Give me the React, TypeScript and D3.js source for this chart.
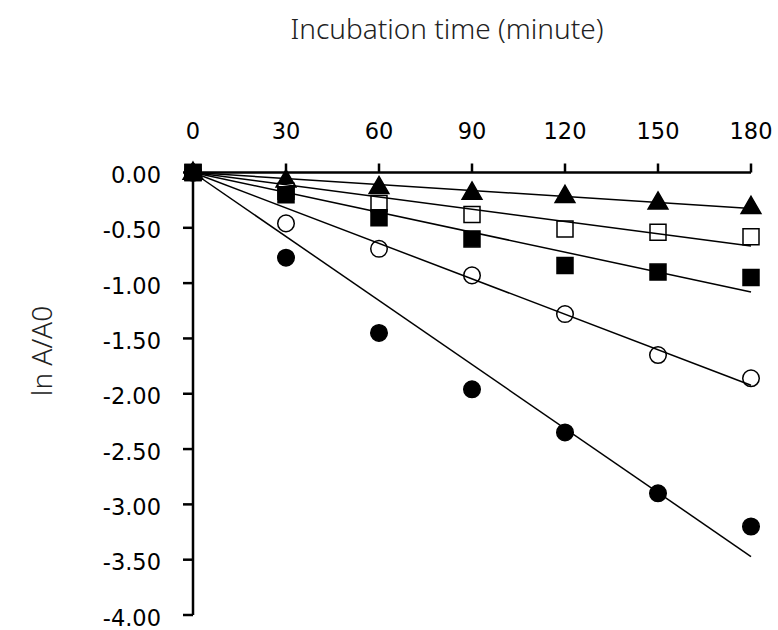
import React from "react";
import * as d3 from "d3";

const times = [0, 30, 60, 90, 120, 150, 180];
const xTicks = [0, 30, 60, 90, 120, 150, 180];
const yTicks = [0, -0.5, -1, -1.5, -2, -2.5, -3, -3.5, -4];

const triangleSeries = [0, -0.07, -0.13, -0.18, -0.21, -0.27, -0.31];
const openSquareSeries = [0, -0.17, -0.28, -0.38, -0.51, -0.54, -0.58];
const filledSquareSeries = [0, -0.2, -0.41, -0.6, -0.84, -0.9, -0.95];
const openCircleSeries = [0, -0.46, -0.69, -0.93, -1.28, -1.65, -1.86];
const filledCircleSeries = [0, -0.77, -1.45, -1.96, -2.35, -2.9, -3.2];

const series = [
  { name: "triangle", values: triangleSeries, symbol: d3.symbolTriangle, fill: "#000" },
  { name: "openSquare", values: openSquareSeries, symbol: d3.symbolSquare, fill: "#fff" },
  { name: "filledSquare", values: filledSquareSeries, symbol: d3.symbolSquare, fill: "#000" },
  { name: "openCircle", values: openCircleSeries, symbol: d3.symbolCircle, fill: "#fff" },
  { name: "filledCircle", values: filledCircleSeries, symbol: d3.symbolCircle, fill: "#000" },
];

const W = 778;
const H = 630;

export default function App() {
  const x = d3.scaleLinear().domain([0, 180]).range([193, 751]);
  const y = d3.scaleLinear().domain([-4, 0]).range([615, 172.5]);
  const titleFont = "'Noto Sans', 'Open Sans', sans-serif";
  const tickFont = "'DejaVu Sans', Verdana, sans-serif";

  const slope = (vals: number[]) => {
    const sxy = d3.sum(times, (t, i) => t * vals[i]);
    const sxx = d3.sum(times, (t) => t * t);
    return sxy / sxx;
  };

  const symSize = (sym: any) => {
    if (sym === d3.symbolTriangle) return 170;
    if (sym === d3.symbolSquare) return 256;
    return 215;
  };

  return (
    <svg width={W} height={H} style={{ position: "absolute", left: 0, top: 0, background: "#fff" }}>
      <text x={447} y={39} textAnchor="middle" fontFamily={titleFont} fontWeight={300} fontSize={28} fill="#222">
        Incubation time (minute)
      </text>
      <text
        transform={`translate(52,${351}) rotate(-90)`}
        textAnchor="middle"
        fontFamily={titleFont}
        fontWeight={300}
        fontSize={28}
        fill="#222"
      >
        ln A/A0
      </text>

      {/* axes */}
      <line x1={x(0)} x2={x(180)} y1={y(0)} y2={y(0)} stroke="#000" strokeWidth={2.5} />
      <line x1={x(0)} x2={x(0)} y1={y(0)} y2={y(-4)} stroke="#000" strokeWidth={2.5} />
      {xTicks.map((t) => (
        <g key={"xt" + t}>
          <line x1={x(t)} x2={x(t)} y1={y(0)} y2={y(0) - 9} stroke="#000" strokeWidth={2.5} />
          <text x={x(t)} y={138.5} textAnchor="middle" fontFamily={tickFont} fontSize={22.5} fill="#000">
            {t}
          </text>
        </g>
      ))}
      {yTicks.map((t) => (
        <g key={"yt" + t}>
          <line x1={x(0) - 10} x2={x(0)} y1={y(t)} y2={y(t)} stroke="#000" strokeWidth={2.5} />
          <text x={161} y={y(t) + 10.5} textAnchor="end" fontFamily={tickFont} fontSize={22.5} fill="#000">
            {d3.format(".2f")(t).replace("−", "-")}
          </text>
        </g>
      ))}

      {/* markers */}
      {series.map((s) => (
        <g key={s.name}>
          {s.values.map((v, i) => (
            <path
              key={i}
              d={d3.symbol().type(s.symbol).size(symSize(s.symbol))() as string}
              transform={`translate(${x(times[i])},${y(v) + (s.symbol === d3.symbolTriangle ? 1 : 0)})`}
              fill={s.fill}
              stroke="#000"
              strokeWidth={1.5}
            />
          ))}
        </g>
      ))}

      {/* trend lines through origin */}
      {series.map((s) => {
        const b = slope(s.values);
        return (
          <line
            key={"tl" + s.name}
            x1={x(0)}
            y1={y(0)}
            x2={x(180)}
            y2={y(b * 180)}
            stroke="#000"
            strokeWidth={1.5}
          />
        );
      })}
    </svg>
  );
}
